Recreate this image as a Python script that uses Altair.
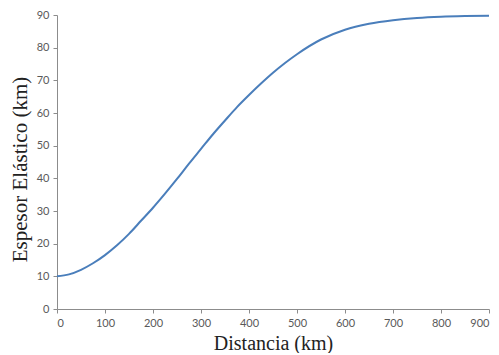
import altair as alt
import pandas as pd

distancia = [0, 25, 50, 75, 100, 125, 150, 175, 200, 225, 250, 275, 300, 325, 350, 375, 400, 425, 450, 475, 500, 550, 600, 650, 700, 750, 800, 850, 900]
espesor = [10, 10.6, 12, 14, 16.5, 19.5, 23, 27, 31, 35.3, 39.8, 44.5, 49, 53.5, 57.7, 61.8, 65.5, 69, 72.3, 75.3, 78, 82.5, 85.5, 87.3, 88.4, 89.1, 89.5, 89.7, 89.8]

df = pd.DataFrame({"d": distancia, "e": espesor})

chart = alt.Chart(df).mark_line(color="#4a7ebb", strokeWidth=2, interpolate="monotone").encode(
    x=alt.X("d:Q", scale=alt.Scale(domain=[0, 900], nice=False),
            axis=alt.Axis(title="Distancia (km)", values=list(range(0, 901, 100)), grid=False,
                          titleFontSize=20, titlePadding=5)),
    y=alt.Y("e:Q", scale=alt.Scale(domain=[0, 90], nice=False),
            axis=alt.Axis(title="Espesor Elástico (km)", values=list(range(0, 91, 10)), grid=False,
                          titleFontSize=21, titlePadding=6, titleY=154)),
).properties(
    width=432, height=294,
    autosize=alt.AutoSizeParams(type="none"),
    padding={"left": 49, "top": 7, "right": 2, "bottom": 44},
).configure_view(stroke=None).configure_axis(
    domainColor="#8c8c8c", tickColor="#8c8c8c", tickSize=4,
    labelFont="Lato", labelFontSize=11, labelColor="#595959",
    titleFont="Liberation Serif", titleFontWeight="normal", titleColor="#222222",
).configure_axisX(labelPadding=4).configure_axisY(labelPadding=4)

chart.save("out.html", embed_options={"renderer": "svg", "actions": False})
